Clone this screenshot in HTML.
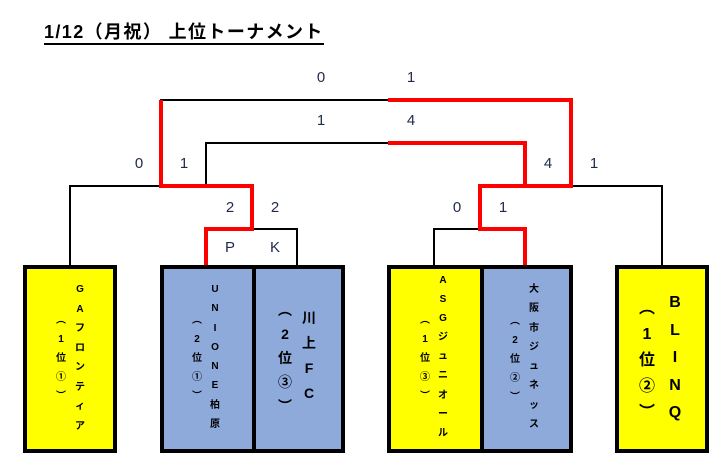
<!DOCTYPE html>
<html><head><meta charset="utf-8"><style>
body{margin:0;width:728px;height:465px;background:#fff;position:relative;overflow:hidden;font-family:"Liberation Sans","Noto Sans CJK JP",sans-serif}
.t{position:absolute;left:44px;top:22px;font-size:18px;font-weight:bold;color:#000;border-bottom:2px solid #000;line-height:21px;letter-spacing:1.4px;white-space:nowrap}
.box{position:absolute;border:4px solid #000;box-sizing:border-box}
.y{background:#ffff00}.b{background:#8eaadb}
.col{position:absolute;width:30px;margin-left:-15px;text-align:center;font-weight:bold;color:#000}
.s{position:absolute;font-size:15px;color:#1f2a4a;width:20px;margin-left:-10px;text-align:center;line-height:16px}
svg{position:absolute;left:0;top:0}
</style></head><body>
<div class="t">1/12（月祝） 上位トーナメント</div>
<svg width="728" height="465">
<g stroke="#000" stroke-width="2" fill="none">
<polyline points="70,265 70,186 161,186"/>
<polyline points="160,100 388,100"/>
<polyline points="206,186 206,143 388,143"/>
<polyline points="252,229 297,229 297,265"/>
<polyline points="571,186 662,186 662,265"/>
<polyline points="434,265 434,229 480,229"/>
</g>
<g stroke="#ff0000" stroke-width="4" fill="none">
<polyline points="161,100 161,186 252,186 252,229 206,229 206,265"/>
<polyline points="388,100 571,100 571,186 480,186 480,229 525,229 525,265"/>
<polyline points="388,143 525,143 525,186"/>
</g>
</svg>
<div class="box y" style="left:23px;top:265px;width:94px;height:188px"></div>
<div class="box b" style="left:160px;top:265px;width:96px;height:188px"></div>
<div class="box b" style="left:252px;top:265px;width:93px;height:188px"></div>
<div class="box y" style="left:387px;top:265px;width:97px;height:188px"></div>
<div class="box b" style="left:480px;top:265px;width:93px;height:188px"></div>
<div class="box y" style="left:615px;top:265px;width:94px;height:188px"></div>

<div class="col" style="left:80px;top:280px;font-size:10px;line-height:19.5px">G<br>A<br>フ<br>ロ<br>ン<br>テ<br>ィ<br>ア</div>
<div class="col" style="left:61px;top:311px;font-size:10px;line-height:19px">︵<br>1<br>位<br>①<br>︶</div>

<div class="col" style="left:215px;top:280px;font-size:10px;line-height:19.3px">U<br>N<br>I<br>O<br>N<br>E<br>柏<br>原</div>
<div class="col" style="left:197px;top:311px;font-size:10px;line-height:19px">︵<br>2<br>位<br>①<br>︶</div>

<div class="col" style="left:309px;top:306px;font-size:14px;line-height:25px">川<br>上<br>F<br>C</div>
<div class="col" style="left:285px;top:298px;font-size:14px;line-height:24px">︵<br>2<br>位<br>③<br>︶</div>

<div class="col" style="left:443px;top:271px;font-size:10px;line-height:19.1px">A<br>S<br>G<br>ジ<br>ュ<br>ニ<br>オ<br>ー<br>ル</div>
<div class="col" style="left:425px;top:311px;font-size:10px;line-height:19px">︵<br>1<br>位<br>③<br>︶</div>

<div class="col" style="left:534px;top:280px;font-size:10px;line-height:19.3px">大<br>阪<br>市<br>ジ<br>ュ<br>ネ<br>ッ<br>ス</div>
<div class="col" style="left:515px;top:312px;font-size:10px;line-height:19px">︵<br>2<br>位<br>②<br>︶</div>

<div class="col" style="left:675px;top:289px;font-size:16px;line-height:27.5px">B<br>L<br>I<br>N<br>Q</div>
<div class="col" style="left:647px;top:296px;font-size:16px;line-height:26px">︵<br>1<br>位<br>②<br>︶</div>

<div class="s" style="left:321px;top:70px">0</div>
<div class="s" style="left:411px;top:70px">1</div>
<div class="s" style="left:321px;top:113px">1</div>
<div class="s" style="left:411px;top:113px">4</div>
<div class="s" style="left:139px;top:156px">0</div>
<div class="s" style="left:184px;top:156px">1</div>
<div class="s" style="left:548px;top:156px">4</div>
<div class="s" style="left:594px;top:156px">1</div>
<div class="s" style="left:230px;top:200px">2</div>
<div class="s" style="left:275px;top:200px">2</div>
<div class="s" style="left:457px;top:200px">0</div>
<div class="s" style="left:503px;top:200px">1</div>
<div class="s" style="left:230px;top:240px">P</div>
<div class="s" style="left:275px;top:240px">K</div>
</body></html>
